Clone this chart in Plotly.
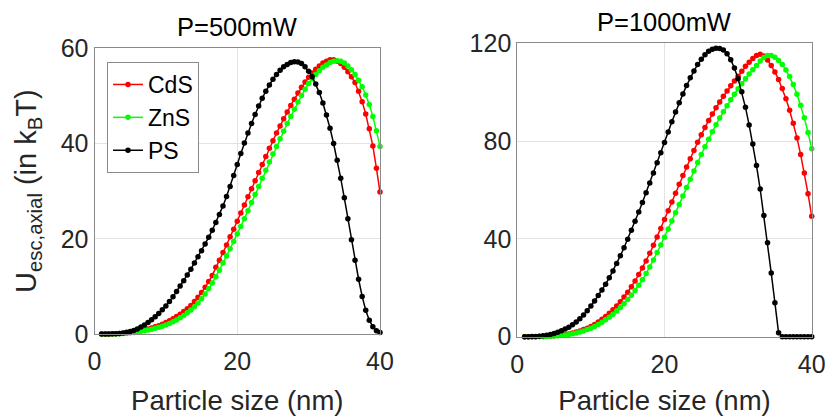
import plotly.graph_objects as go

# Particle size (nm)
size_nm = [1, 1.5, 2, 2.5, 3, 3.5, 4, 4.5, 5, 5.5, 6, 6.5, 7, 7.5, 8, 8.5, 9, 9.5, 10, 10.5,
           11, 11.5, 12, 12.5, 13, 13.5, 14, 14.5, 15, 15.5, 16, 16.5, 17, 17.5, 18, 18.5, 19, 19.5, 20, 20.5,
           21, 21.5, 22, 22.5, 23, 23.5, 24, 24.5, 25, 25.5, 26, 26.5, 27, 27.5, 28, 28.5, 29, 29.5, 30, 30.5,
           31, 31.5, 32, 32.5, 33, 33.5, 34, 34.5, 35, 35.5, 36, 36.5, 37, 37.5, 38, 38.5, 39, 39.5, 40]

# P = 500 mW
cds_500 = [0, 0, 0.01, 0.025, 0.05, 0.09, 0.15, 0.22, 0.31, 0.42, 0.55, 0.7, 0.85, 1.05, 1.25, 1.5, 1.75, 2.05, 2.4, 2.8,
           3.2, 3.65, 4.15, 4.7, 5.3, 6.0, 6.8, 7.7, 8.7, 9.8, 11.0, 12.3, 14.0, 15.5, 17.1, 18.7, 20.4, 22.0, 23.7, 25.4,
           27.1, 28.8, 30.5, 32.2, 33.9, 35.6, 37.3, 39.0, 40.6, 42.2, 43.7, 45.2, 46.6, 48.0, 49.3, 50.6, 51.8, 52.9, 53.9, 54.8,
           55.6, 56.3, 56.9, 57.3, 57.6, 57.6, 57.3, 56.8, 56.0, 55.1, 54.0, 52.8, 51.0, 48.8, 46.2, 43.1, 39.5, 34.8, 29.8]
zns_500 = [0, 0, 0.01, 0.02, 0.04, 0.07, 0.11, 0.17, 0.25, 0.34, 0.45, 0.57, 0.7, 0.85, 1.0, 1.2, 1.4, 1.65, 1.9, 2.2,
           2.55, 2.95, 3.4, 3.9, 4.45, 5.05, 5.7, 6.5, 7.4, 8.4, 9.5, 10.7, 12.0, 13.4, 14.9, 16.4, 17.9, 19.4, 21.0, 22.6,
           24.2, 25.9, 27.6, 29.3, 31.0, 32.7, 34.4, 36.1, 37.8, 39.4, 41.0, 42.6, 44.2, 45.7, 47.2, 48.7, 50.1, 51.4, 52.6, 53.6,
           54.5, 55.3, 56.0, 56.5, 57.0, 57.3, 57.4, 57.3, 56.9, 56.3, 55.5, 54.5, 53.3, 51.9, 50.2, 48.2, 45.7, 42.7, 39.4]
ps_500 = [0, 0.005, 0.015, 0.035, 0.07, 0.13, 0.22, 0.35, 0.52, 0.75, 1.05, 1.45, 1.9, 2.4, 3.0, 3.6, 4.3, 5.1, 5.9, 6.8,
          7.8, 8.9, 10.1, 11.2, 12.4, 13.6, 14.9, 16.2, 17.5, 18.9, 20.3, 21.8, 23.4, 25.1, 26.9, 28.9, 31.0, 33.3, 35.6, 37.9,
          40.1, 42.2, 44.2, 46.1, 47.9, 49.5, 51.0, 52.3, 53.5, 54.5, 55.4, 56.1, 56.6, 57.0, 57.2, 57.1, 56.8, 56.1, 55.2, 54.0,
          52.5, 50.7, 48.5, 46.0, 43.2, 40.0, 36.5, 32.7, 28.6, 24.2, 19.8, 15.5, 11.5, 7.9, 5.0, 2.9, 1.5, 0.7, 0.3]

# P = 1000 mW
cds_1000 = [0, 0, 0.01, 0.025, 0.05, 0.09, 0.15, 0.23, 0.34, 0.48, 0.65, 0.9, 1.15, 1.5, 1.9, 2.3, 2.9, 3.5, 4.2, 5.0,
            6.0, 7.1, 8.3, 9.6, 11.0, 12.6, 14.3, 16.2, 18.2, 20.4, 22.8, 25.4, 28.1, 31.0, 34.1, 37.4, 40.8, 44.3, 47.9, 51.5,
            55.1, 58.7, 62.4, 65.9, 69.4, 72.8, 76.2, 79.5, 82.6, 85.6, 88.4, 91.1, 93.6, 96.0, 98.3, 100.5, 102.6, 104.6, 106.5, 108.6,
            110.6, 112.3, 113.8, 115.0, 115.5, 114.8, 113.2, 110.9, 108.3, 105.2, 101.5, 97.3, 92.6, 87.3, 81.3, 74.5, 67.0, 58.5, 49.3]
zns_1000 = [0, 0, 0.01, 0.02, 0.04, 0.07, 0.12, 0.18, 0.27, 0.38, 0.52, 0.7, 0.92, 1.2, 1.5, 1.9, 2.35, 2.9, 3.5, 4.2,
            5.0, 5.9, 6.9, 8.0, 9.2, 10.5, 11.9, 13.5, 15.2, 17.0, 18.9, 21.0, 23.3, 25.8, 28.5, 31.4, 34.4, 37.5, 40.7, 44.0,
            47.3, 50.7, 54.1, 57.5, 61.0, 64.4, 67.8, 71.2, 74.5, 77.7, 80.8, 83.8, 86.7, 89.4, 92.0, 94.5, 96.9, 99.2, 101.4, 103.5,
            105.5, 107.4, 109.2, 110.9, 112.8, 114.2, 115.0, 115.0, 114.3, 113.0, 111.3, 109.1, 106.4, 103.1, 99.2, 94.7, 89.5, 83.5, 76.9]
ps_1000 = [0, 0.02, 0.05, 0.12, 0.22, 0.38, 0.6, 0.9, 1.3, 1.8, 2.4, 3.1, 3.9, 4.9, 6.0, 7.3, 8.9, 10.6, 12.6, 14.6,
           16.8, 19.1, 21.5, 24.1, 26.9, 29.9, 33.1, 36.4, 39.9, 43.5, 47.2, 51.0, 54.9, 58.9, 62.9, 67.0, 71.1, 75.2, 79.4, 83.7,
           87.9, 91.9, 95.7, 99.3, 102.7, 105.9, 108.7, 111.3, 113.5, 115.3, 116.7, 117.6, 118.0, 117.9, 117.3, 115.7, 113.3, 109.9, 105.5, 100.2,
           93.8, 86.6, 78.8, 70.0, 60.4, 49.6, 38.4, 26.1, 13.9, 1.6, 0, 0, 0, 0, 0, 0, 0, 0, 0]

series_names = ["CdS", "ZnS", "PS"]
series_colors = ["#ff0000", "#00ff00", "#000000"]
panel_titles = ["P=500mW", "P=1000mW"]
x_ticks = [0, 20, 40]
y_ticks_500 = [0, 20, 40, 60]
y_ticks_1000 = [0, 40, 80, 120]

FONT = "Liberation Sans, Arial, sans-serif"
W, H = 825, 416

fig = go.Figure()
panels = [([cds_500, zns_500, ps_500], "x", "y"), ([cds_1000, zns_1000, ps_1000], "x2", "y2")]
for p, (data, xa, ya) in enumerate(panels):
    for name, col, ys in zip(series_names, series_colors, data):
        fig.add_trace(go.Scatter(
            x=size_nm, y=ys, mode="lines+markers", name=name,
            line=dict(color=col, width=1.5), marker=dict(color=col, size=5.5),
            xaxis=xa, yaxis=ya, showlegend=(p == 0),
            cliponaxis=False))

def px_x(a, b):
    return [a / W, b / W]

def px_y(top, bottom):
    return [1 - bottom / H, 1 - top / H]

axis_common = dict(showgrid=True, gridcolor="#e3e3e3", gridwidth=1, zeroline=False,
                   showline=True, mirror=True, linecolor="#8a8a8a", linewidth=1, automargin=False,
                   ticks="", ticklabeloverflow="allow",
                   tickfont=dict(size=25, color="#262626", family=FONT))

xtitle = dict(text="Particle size (nm)", font=dict(size=27.5), standoff=18)

fig.update_layout(
    width=W, height=H, margin=dict(l=0, r=0, t=0, b=0),
    paper_bgcolor="white", plot_bgcolor="white",
    font=dict(family=FONT, color="#262626"),
    xaxis=dict(domain=px_x(94.5, 380), range=[0, 40], tickvals=x_ticks, anchor="y",
               ticklabelstandoff=5, title=xtitle, **axis_common),
    yaxis=dict(domain=px_y(48.3, 334), range=[0, 60], tickvals=y_ticks_500, anchor="x",
               title=dict(text="U<sub>esc,axial</sub> (in k<sub>B</sub>T)", font=dict(size=29), standoff=15),
               **axis_common),
    xaxis2=dict(domain=px_x(517.3, 811.7), range=[0, 40], tickvals=x_ticks, anchor="y2",
                ticklabelstandoff=5, title=xtitle, **axis_common),
    yaxis2=dict(domain=px_y(43.3, 336.7), range=[0, 120], tickvals=y_ticks_1000, anchor="x2", **axis_common),
    legend=dict(x=107 / W, y=1 - 62 / H, xanchor="left", yanchor="top",
                bgcolor="white", bordercolor="#8a8a8a", borderwidth=1,
                font=dict(size=23, color="#000000"), itemwidth=30),
    annotations=[
        dict(text=panel_titles[0], x=237 / W, y=1 - 27 / H, xref="paper", yref="paper",
             showarrow=False, font=dict(size=25.5, color="#000000"), xanchor="center", yanchor="middle"),
        dict(text=panel_titles[1], x=664 / W, y=1 - 22 / H, xref="paper", yref="paper",
             showarrow=False, font=dict(size=25.5, color="#000000"), xanchor="center", yanchor="middle"),
    ],
)

fig.write_html("out.html")
